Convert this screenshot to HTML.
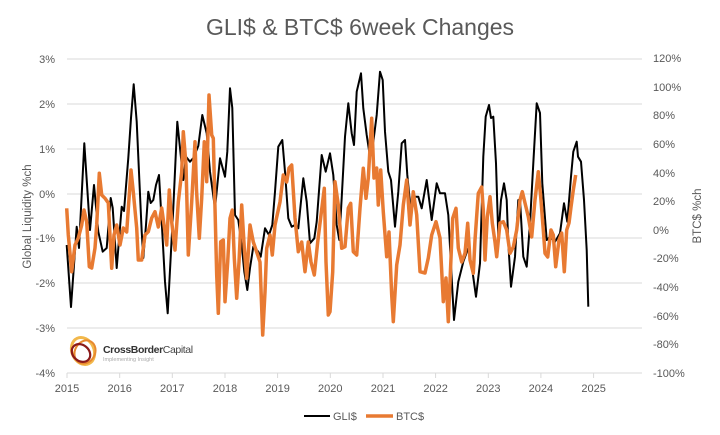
<!DOCTYPE html>
<html><head><meta charset="utf-8"><style>
html,body{margin:0;padding:0;background:#fff;}
svg{display:block;font-family:"Liberation Sans",sans-serif;}
</style></head><body>
<svg width="720" height="435" viewBox="0 0 720 435" xmlns="http://www.w3.org/2000/svg">
<rect width="720" height="435" fill="#fff"/>
<text x="360" y="35" text-anchor="middle" font-size="23" fill="#595959">GLI$ &amp; BTC$ 6week Changes</text>
<g stroke="#d9d9d9" stroke-width="1">
<line x1="67" y1="59" x2="642" y2="59"/>
<line x1="67" y1="104" x2="642" y2="104"/>
<line x1="67" y1="149" x2="642" y2="149"/>
<line x1="67" y1="194" x2="642" y2="194"/>
<line x1="67" y1="238" x2="642" y2="238"/>
<line x1="67" y1="283" x2="642" y2="283"/>
<line x1="67" y1="328" x2="642" y2="328"/>
<line x1="67" y1="373" x2="642" y2="373"/>
<line x1="67" y1="373" x2="67" y2="378"/>
<line x1="119.7" y1="373" x2="119.7" y2="378"/>
<line x1="172.3" y1="373" x2="172.3" y2="378"/>
<line x1="225" y1="373" x2="225" y2="378"/>
<line x1="277.6" y1="373" x2="277.6" y2="378"/>
<line x1="330.3" y1="373" x2="330.3" y2="378"/>
<line x1="383" y1="373" x2="383" y2="378"/>
<line x1="435.6" y1="373" x2="435.6" y2="378"/>
<line x1="488.3" y1="373" x2="488.3" y2="378"/>
<line x1="540.9" y1="373" x2="540.9" y2="378"/>
<line x1="593.6" y1="373" x2="593.6" y2="378"/>
</g>
<g font-size="11" fill="#595959" text-anchor="end">
<text x="55" y="63">3%</text>
<text x="55" y="108">2%</text>
<text x="55" y="153">1%</text>
<text x="55" y="198">0%</text>
<text x="55" y="242">-1%</text>
<text x="55" y="287">-2%</text>
<text x="55" y="332">-3%</text>
<text x="55" y="377">-4%</text>
</g>
<g font-size="11" fill="#595959">
<text x="653" y="62">120%</text>
<text x="653" y="91">100%</text>
<text x="653" y="119">80%</text>
<text x="653" y="148">60%</text>
<text x="653" y="177">40%</text>
<text x="653" y="205">20%</text>
<text x="653" y="234">0%</text>
<text x="653" y="262">-20%</text>
<text x="653" y="291">-40%</text>
<text x="653" y="320">-60%</text>
<text x="653" y="348">-80%</text>
<text x="653" y="377">-100%</text>
</g>
<g font-size="11" fill="#595959" text-anchor="middle">
<text x="67" y="392">2015</text>
<text x="119.7" y="392">2016</text>
<text x="172.3" y="392">2017</text>
<text x="225" y="392">2018</text>
<text x="277.6" y="392">2019</text>
<text x="330.3" y="392">2020</text>
<text x="383" y="392">2021</text>
<text x="435.6" y="392">2022</text>
<text x="488.3" y="392">2023</text>
<text x="540.9" y="392">2024</text>
<text x="593.6" y="392">2025</text>
</g>
<text transform="translate(31,216.5) rotate(-90)" text-anchor="middle" font-size="11.5" fill="#595959">Global Liquidity %ch</text>
<text transform="translate(701,216) rotate(-90)" text-anchor="middle" font-size="11.5" fill="#595959">BTC$ %ch</text>

<!-- logo -->
<g>
<ellipse cx="83" cy="351" rx="11" ry="14" fill="none" stroke="#f2b84b" stroke-width="3" transform="rotate(-25 83 351)"/>
<ellipse cx="85" cy="352" rx="10" ry="12" fill="none" stroke="#e8892f" stroke-width="2" transform="rotate(30 85 352)"/>
<ellipse cx="81" cy="353" rx="8" ry="10" fill="none" stroke="#8b1a1a" stroke-width="2.2" transform="rotate(-50 81 353)"/>
<text x="103" y="353" font-size="10.5" fill="#333" letter-spacing="-0.4"><tspan font-weight="bold">CrossBorder</tspan><tspan fill="#444">Capital</tspan></text>
<text x="103" y="361" font-size="5.5" fill="#aaa">Implementing Insight</text>
</g>

<!-- GLI$ -->
<polyline fill="none" stroke="#000" stroke-width="2" stroke-linejoin="round" points="66.7,245 71,307 76.7,226.7 79,248 84.3,143.3 90,230 94,185 98.3,231.7 102.7,251.7 106.7,248 110.7,198 112.7,208 116.7,268 121.7,206.7 124,211 128.3,158 131,118 133.7,84.3 136.7,121.7 141.7,231.7 143.3,258 146,225 148.3,191.7 150.7,203 153.3,200 156,185 159,175 161.7,221.7 165,281.7 167.7,313.3 173.3,208 177.3,121.7 180,148 183.3,180 186,156.7 190,161.7 193.3,158 198.3,146 202.3,115 206.7,133.3 210,171.7 215,208.3 220,158.3 225,176.7 227.3,151.7 230,88.3 232.3,108 235,215 238.3,220 241.7,245 244.3,271.7 247.3,290 250,268 253.3,246.7 258.3,251.7 260.7,256.7 265,228.3 269,235 272.3,225 275,191.7 278.3,146.7 282.3,140 285,171.7 288.3,218.3 291.7,226.7 295,225 298.3,228.3 303.3,178.3 306.7,201.7 310,243.3 314.3,238.3 316.7,221.7 321.7,155 325.7,171.7 330,153.3 333.3,175 336.7,225 339.3,240 341.7,198 345,136.7 348.3,103.3 351.7,133.3 354,145 356.7,91.7 361,73.3 363.3,108.3 366.7,135 370,156.7 373.3,141.7 376.7,115 380,71.7 382.7,80 385,131.7 388.3,171.7 391,180 395,226.7 398.3,191.7 401.7,143.3 405,140 407.3,175 410.7,210 415,196.7 418.3,196.7 421.7,208.3 426.7,180 431.7,220 436.7,183.3 440,193.3 445,193.3 448.3,215 451.7,278.3 454,320 458.3,281.7 463.3,261.7 468.3,248 472,268 476,296.7 480,263.3 483.3,156.7 485.7,116.7 489,105 491,118 493.3,116.7 496,163.3 498.3,236.7 501,200 504,183.3 506.7,200 508.3,243.3 511,286.7 515,256.7 518.3,200 520,200 523.3,256.7 526.7,266.7 530,223.3 533.3,163.3 536.7,103.3 540,113 542.3,183.3 546.7,240 550,236.7 555,241.7 560,233.3 564,203.3 567.3,221.7 571,176.7 573.3,151.7 576.7,141.7 578,156.7 581,161.7 584,200 586.7,250 588.3,306.7"/>

<!-- BTC$ -->
<polyline fill="none" stroke="#e87a32" stroke-width="3.5" stroke-linejoin="round" points="66.7,208.3 68.3,235 71.7,271.7 75,245 78.3,238 81.7,225 84,210 86.7,222 89.3,266.7 91.7,268 95,248 96.7,225 99.3,173.3 101.7,195 105,198.3 108.3,203 111.7,268.3 114,235 116.7,225 120,245 123.3,228 126.7,232 131,170 133.3,192 136.7,228 138.3,260 141.7,260 145,235 148.3,231.7 151.7,218 155,211.7 158.3,227 161.7,208 165,232 166.7,245 169.3,190 171.7,222 175,250 178.3,202 181.7,172 183.3,131.7 186,165 188.3,255 191.7,202 195,141.7 196.5,190 199.3,238.3 201.7,198 204.3,141.7 206.7,181.7 209,95 211.7,135 213.3,138.3 215,208 216.7,275 218.3,313.3 220.7,241.7 223.3,240 225,301.7 227.7,262 230,218.3 232.3,210 234.3,258 236.7,298.3 239,262 241.7,205 244.3,248 246.7,278.3 250,225 253.3,242 256.7,252 260,262 262.7,335 265,292 266.7,248.3 270,235 272.3,255 275,225 280,202 283.3,175 286.7,182 289,168 291.7,165 295,218 298.3,251.7 301.7,242 305,271.7 308.3,242 311,262 314.3,275 317.7,242 321,215 324.3,188.3 326,262 328.3,315 330,311.7 332.7,272 335,181.7 338.3,205 341.7,248.3 345,246.7 348.3,208 350.7,203.3 353.3,251.7 356.7,255 360,208.3 363.3,168.3 366,198.3 368.3,178 371.7,118.3 374,178 376.7,168 378.3,205 380.7,170 383.3,212 386.7,256.7 389,232 391.7,295 393.3,321.7 396.7,265 400,245 403.3,205 406.7,180 410,225 413.3,191.7 416.7,215 420,271.7 425,273 428.3,258 431.7,235 436,221.7 440,238 443.3,301.7 446,278 448.3,321.7 450.7,265 452.7,218.3 456,208.3 458.3,248 461.7,262 465,253.3 467.7,223.3 470,260 473.3,273.3 475,240 478.3,193.3 481.7,187 483.3,210 485,260 487.3,217 490,196.7 492.3,223 495,242 496.7,256.7 500,223 503.3,221.7 506.7,230 510,253.3 513.3,247 516.7,230 520,200 522.3,191.7 525,203 528.3,216.7 531.7,237 535,200 538.3,171.7 540.7,197 543.3,230 545,253.3 547.7,257 551,230 553.3,235 555.7,266.7 559,240 561.7,233 564.3,271.7 566.7,230 569,223 571,207 573.3,190 575.7,175"/>

<!-- legend -->
<line x1="304" y1="416" x2="330" y2="416" stroke="#000" stroke-width="2"/>
<text x="333" y="420" font-size="11" fill="#595959">GLI$</text>
<line x1="366" y1="416" x2="393" y2="416" stroke="#e87a32" stroke-width="3.5"/>
<text x="396" y="420" font-size="11" fill="#595959">BTC$</text>
</svg>
</body></html>
